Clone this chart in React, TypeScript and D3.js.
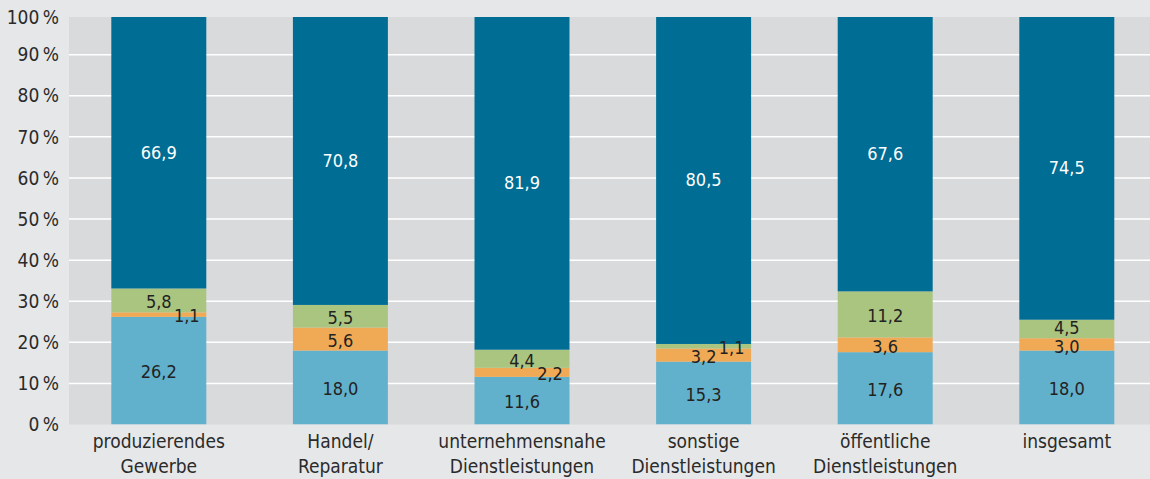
import React, { useEffect, useRef } from 'react';
import * as d3 from 'd3';

// categories (two-line labels)
const categories = [
  ['produzierendes', 'Gewerbe'],
  ['Handel/', 'Reparatur'],
  ['unternehmensnahe', 'Dienstleistungen'],
  ['sonstige', 'Dienstleistungen'],
  ['öffentliche', 'Dienstleistungen'],
  ['insgesamt'],
];

// series values, bottom to top
const seriesLightBlue = [26.2, 18.0, 11.6, 15.3, 17.6, 18.0];
const seriesOrange = [1.1, 5.6, 2.2, 3.2, 3.6, 3.0];
const seriesGreen = [5.8, 5.5, 4.4, 1.1, 11.2, 4.5];
const seriesDarkBlue = [66.9, 70.8, 81.9, 80.5, 67.6, 74.5];

const yTicks = [0, 10, 20, 30, 40, 50, 60, 70, 80, 90, 100];

const colors = ['#62b1cc', '#f0aa55', '#aac580', '#006d94'];

// labels that are nudged sideways because the segment is too thin: [series, category]
const nudged = [[1, 0], [1, 2], [2, 3]];
// labels nudged vertically to keep them apart: [series, category, dy]
const lifted = [[2, 5, -2.5], [1, 5, 1]];

const W = 1150;
const H = 479;
const FONT = "'Liberation Sans Narrow', 'DejaVu Sans Condensed', sans-serif";

export default function App() {
  const svgRef = useRef<SVGSVGElement>(null);

  useEffect(() => {
    if (!svgRef.current) return;
    const svg = d3.select(svgRef.current);
    svg.selectAll('*').remove();

    const plotLeft = 69;
    const plotTop = 17;
    const plotBottom = 424.5;

    const x = d3.scaleBand<number>()
      .domain(d3.range(categories.length))
      .range([68, 1157.6])
      .padding(0);
    const barW = x.bandwidth() * 0.523;

    const y = d3.scaleLinear().domain([0, 100]).range([plotBottom, 13.6]);

    svg.append('rect').attr('width', W).attr('height', H).attr('fill', '#e6e7e9');

    svg.append('defs').append('clipPath').attr('id', 'plotclip')
      .append('rect').attr('x', plotLeft).attr('y', plotTop)
      .attr('width', W - plotLeft).attr('height', plotBottom - plotTop);

    svg.append('rect')
      .attr('x', plotLeft).attr('y', plotTop)
      .attr('width', W - plotLeft).attr('height', plotBottom - plotTop)
      .attr('fill', '#d9dadc');

    // gridlines
    svg.append('g').selectAll('line')
      .data(yTicks.filter(t => t > 0 && t < 100))
      .enter().append('line')
      .attr('x1', plotLeft).attr('x2', W)
      .attr('y1', d => y(d)).attr('y2', d => y(d))
      .attr('stroke', '#ffffff').attr('stroke-width', 1.5);

    // y labels
    svg.append('g').selectAll('text')
      .data(yTicks)
      .enter().append('text')
      .attr('x', 59)
      .attr('y', d => (d === 100 ? plotTop : y(d)))
      .attr('dy', '0.35em')
      .attr('text-anchor', 'end')
      .style('font-family', FONT)
      .style('font-size', '19px')
      .style('fill', '#2b2b2b')
      .text(d => `${d}\u2009%`);

    const allSeries = [seriesLightBlue, seriesOrange, seriesGreen, seriesDarkBlue];
    const rows = categories.map((_, i) => {
      const row: Record<string, number> = { i };
      allSeries.forEach((s, k) => { row['s' + k] = s[i]; });
      return row;
    });
    const stack = d3.stack<Record<string, number>>().keys(allSeries.map((_, k) => 's' + k));
    const stacked = stack(rows);

    const bars = svg.append('g').attr('clip-path', 'url(#plotclip)');
    stacked.forEach((layer, k) => {
      bars.selectAll(`rect.s${k}`)
        .data(layer)
        .enter().append('rect')
        .attr('class', `s${k}`)
        .attr('x', (_, i) => x(i)! + (x.bandwidth() - barW) / 2)
        .attr('y', d => y(d[1]))
        .attr('width', barW)
        .attr('height', d => y(d[0]) - y(d[1]))
        .attr('fill', colors[k]);
    });

    // value labels
    const fmt = (v: number) => v.toFixed(1).replace('.', ',');
    const labels = svg.append('g');
    stacked.forEach((layer, k) => {
      layer.forEach((d, i) => {
        const shift = nudged.some(([s, c]) => s === k && c === i) ? 28 : 0;
        const lift = lifted.find(([s, c]) => s === k && c === i);
        labels.append('text')
          .attr('x', x(i)! + x.bandwidth() / 2 + shift)
          .attr('y', y((d[0] + d[1]) / 2) + 1.5 + (lift ? lift[2] : 0))
          .attr('dy', '0.35em')
          .attr('text-anchor', 'middle')
          .style('font-family', FONT)
          .style('font-size', '18px')
          .style('fill', k === 3 ? '#ffffff' : '#222222')
          .text(fmt(allSeries[k][i]));
      });
    });

    // category labels
    const cats = svg.append('g');
    categories.forEach((lines, i) => {
      const t = cats.append('text')
        .attr('text-anchor', 'middle')
        .style('font-family', FONT)
        .style('font-size', '19px')
        .style('fill', '#2b2b2b');
      lines.forEach((line, j) => {
        t.append('tspan')
          .attr('x', x(i)! + x.bandwidth() / 2)
          .attr('y', 448 + j * 25)
          .text(line);
      });
    });
  }, []);

  return (
    <svg
      ref={svgRef}
      width={W}
      height={H}
      style={{ display: 'block', position: 'absolute', left: 0, top: 0 }}
    />
  );
}
